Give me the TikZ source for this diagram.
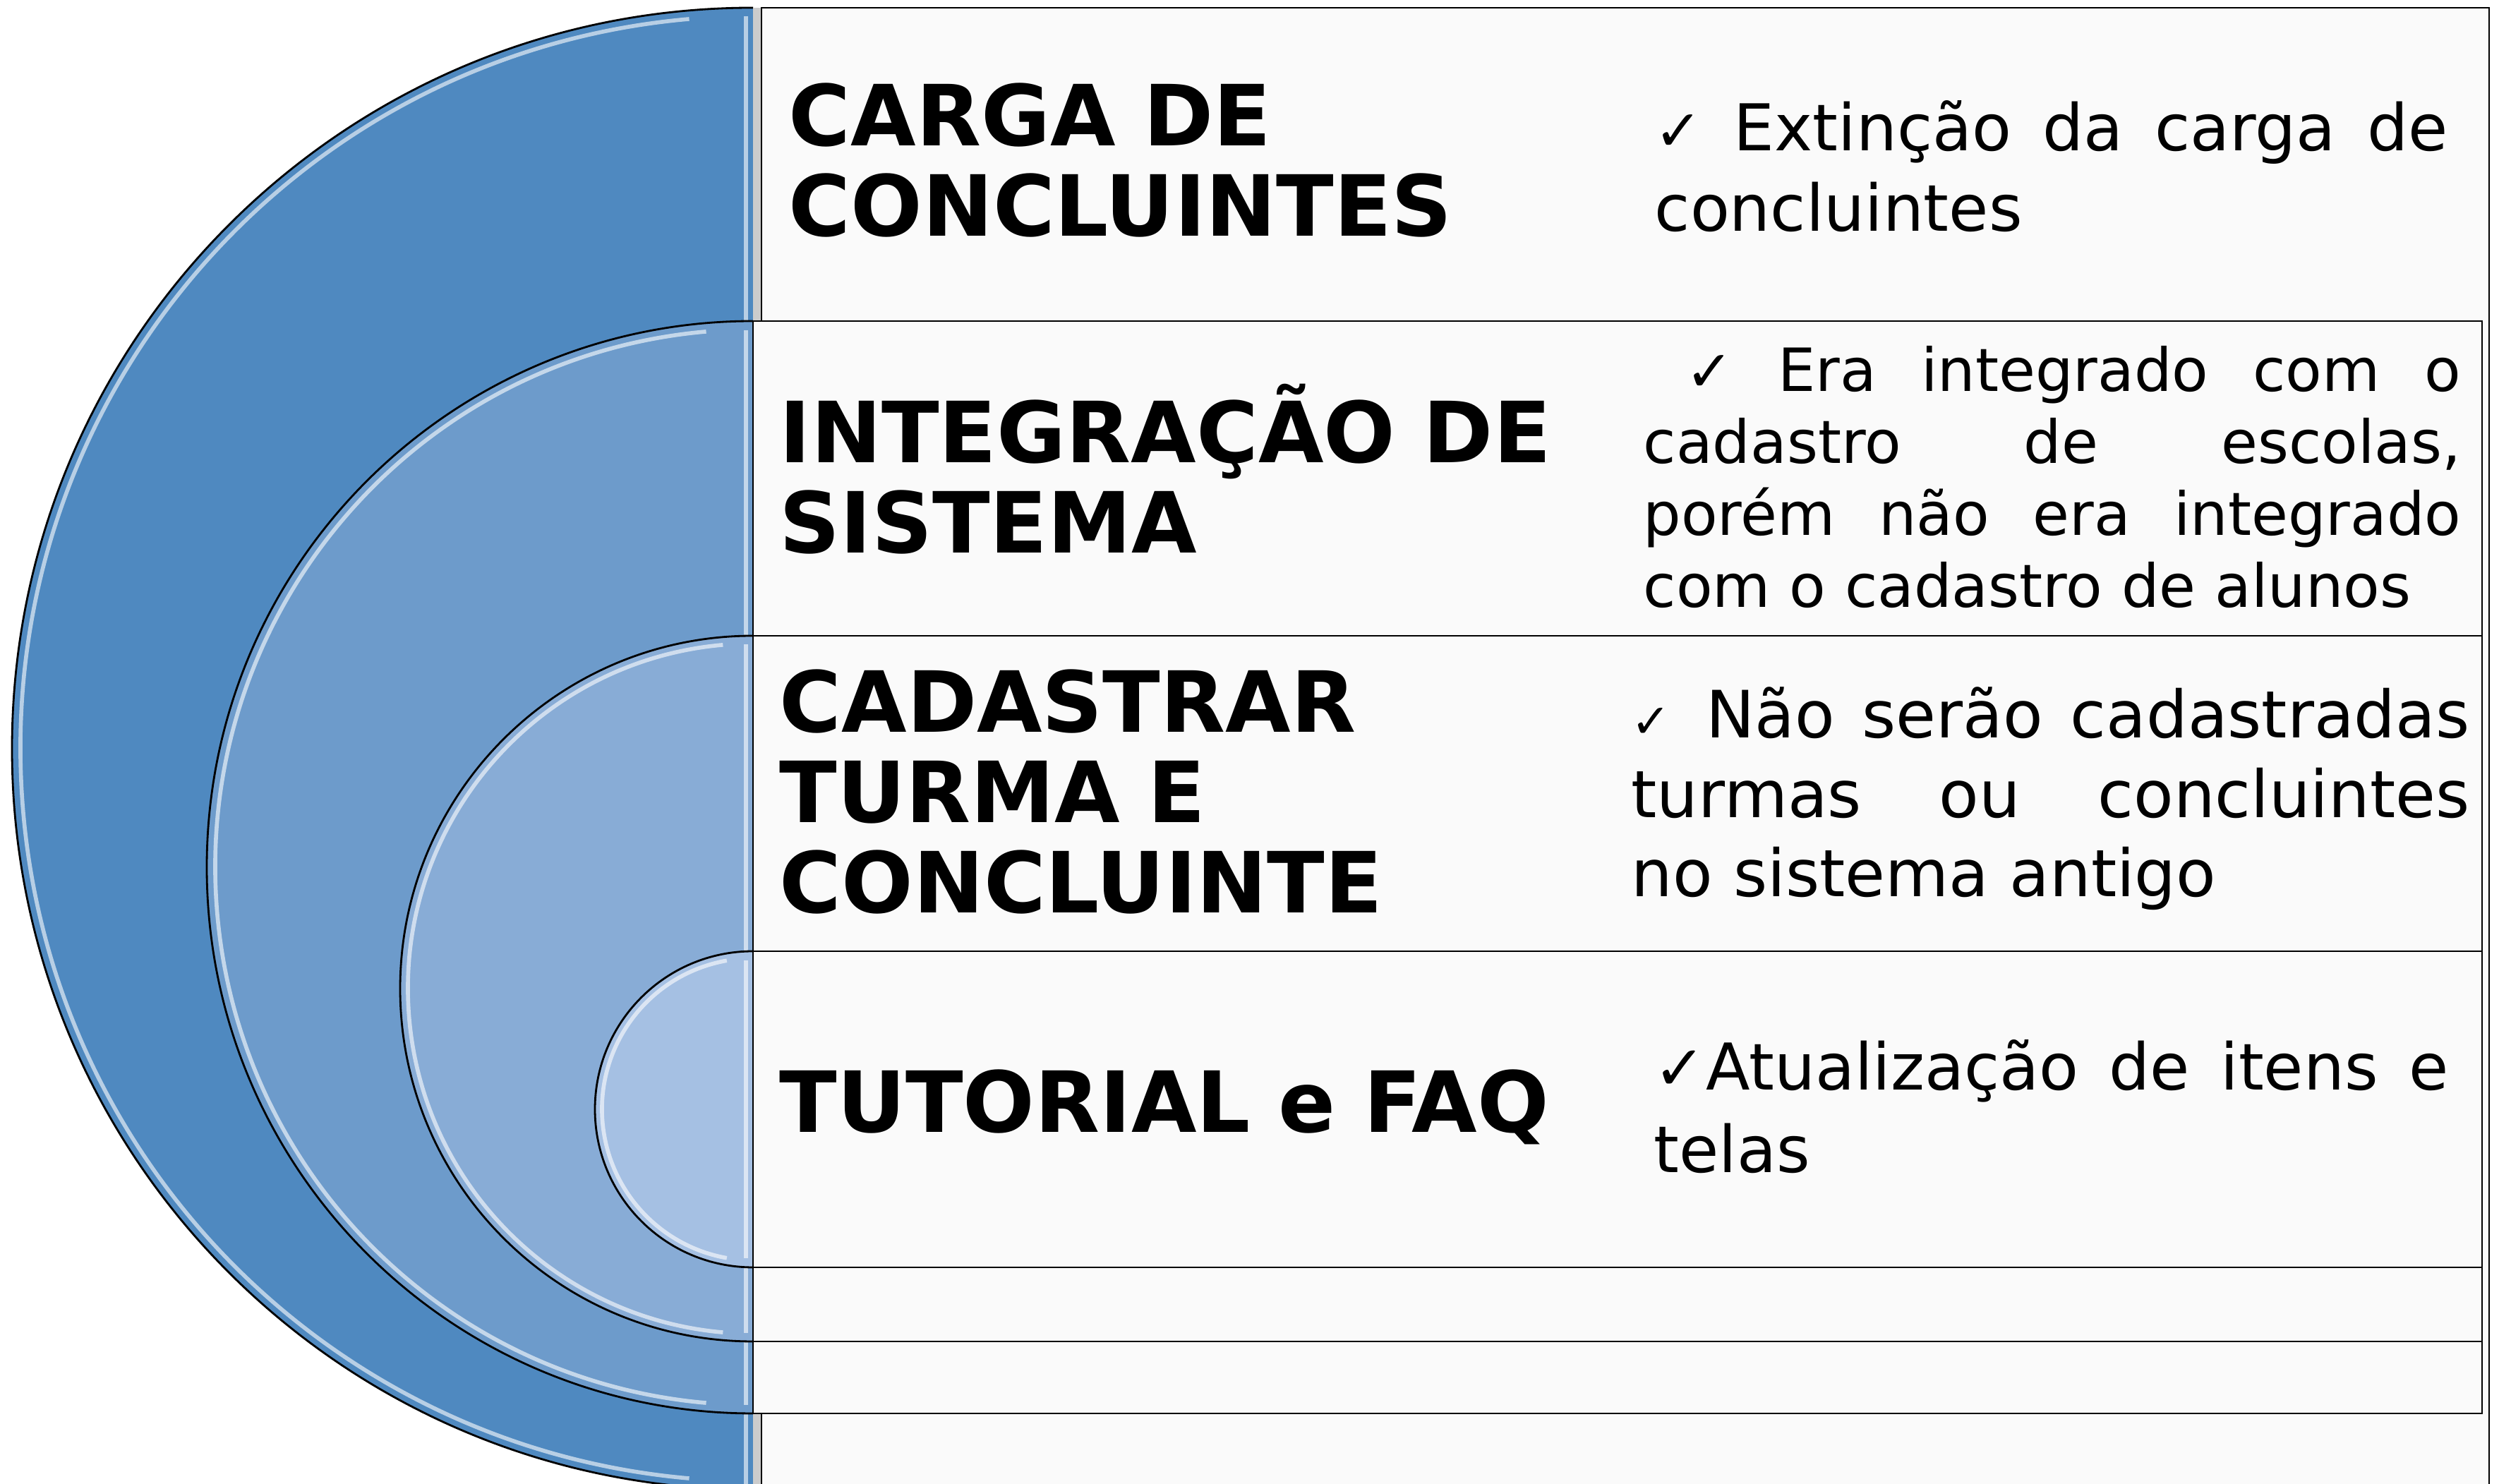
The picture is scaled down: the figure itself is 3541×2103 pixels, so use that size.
\documentclass[tikz,border=0pt]{standalone}
\usepackage{fontspec}
\setmainfont{DejaVu Sans}
\definecolor{ringA}{HTML}{4F89C0}
\definecolor{ringB}{HTML}{6D9BCB}
\definecolor{ringC}{HTML}{88ACD6}
\definecolor{ringD}{HTML}{A5C0E3}
\definecolor{paper}{HTML}{FAFAFA}
\newcommand{\okmark}[1]{{\fontsize{#1}{#1}\selectfont ✓}}
\AtBeginDocument{\hyphenpenalty=10000 \tolerance=9999}
\begin{document}
\begin{tikzpicture}[x=0.01cm,y=0.01cm,
  ring/.style={draw=black,line width=0.8pt},
  shine/.style={draw=white,opacity=0.6,line width=1.6pt},
  panel/.style={fill=paper,draw=black,line width=0.8pt},
  head/.style={anchor=base west,inner sep=0pt,text width=12cm,align=left,
    font=\bfseries\fontsize{34}{36.3}\selectfont},
  note/.style={anchor=base west,inner sep=0pt,align=justify,
    font=\fontsize{26}{32.4}\selectfont}]
\useasboundingbox (0,0) rectangle (3541,2103);
\clip (0,0) rectangle (3541,2103);
\fill[ringA] (1067,2092) arc (90:270:1050) -- cycle;
\draw[ring] (1067,2092) arc (90:270:1050);
\draw[shine] (1067,1042) ++(95:1038) arc (95:265:1038);
\draw[shine] (1057,2080) -- (1057,0);
\fill[gray!40] (1067,-20) rectangle (1079,2092);
\draw[panel] (1079,-20) rectangle (3527,2092);
\fill[ringB] (1067,1648) arc (90:270:774) -- cycle;
\draw[ring] (1067,1648) arc (90:270:774);
\draw[shine] (1067,874) ++(95:762) arc (95:265:762);
\draw[shine] (1057,1635) -- (1057,112);
\draw[panel] (1067,100) rectangle (3517,1648);
\fill[ringC] (1067,1202) arc (90:270:500) -- cycle;
\draw[ring] (1067,1202) arc (90:270:500);
\draw[shine] (1067,702) ++(95:489) arc (95:265:489);
\draw[shine] (1057,1190) -- (1057,214);
\draw[panel] (1067,202) rectangle (3517,1202);
\fill[ringD] (1067,755) arc (90:270:224) -- cycle;
\draw[ring] (1067,755) arc (90:270:224);
\draw[shine] (1067,531) ++(100:214) arc (100:260:214);
\draw[shine] (1057,742) -- (1057,320);
\draw[panel] (1067,307) rectangle (3517,755);
\node[head] (carga) at (1117,1896) {CARGA DE\\CONCLUINTES};
\node[head] (integra) at (1104,1447) {INTEGRAÇÃO DE\\SISTEMA};
\node[head] (cadastra) at (1104,1065) {CADASTRAR\\TURMA E\\CONCLUINTE};
\node[head] (tutorial) at (1104,498) {TUTORIAL e FAQ};
\node[note,text width=11.23cm] (cargatxt) at (2344,1889)
  {\okmark{23} Extinção da carga de\linebreak concluintes};
\node[note,text width=11.58cm,font=\fontsize{24}{29}\selectfont] (integratxt) at (2328,1548)
  {\hspace*{0.6cm}\okmark{23} Era integrado com o\linebreak cadastro de escolas,\linebreak
   porém não era integrado\linebreak com o cadastro de alunos};
\node[note,text width=11.87cm,font=\fontsize{26.3}{31.9}\selectfont] (cadastratxt) at (2311,1057)
  {\okmark{19}\hspace{0.5cm}Não serão cadastradas\linebreak turmas ou concluintes\linebreak no sistema antigo};
\node[note,text width=11.25cm,font=\fontsize{26}{33}\selectfont] (tutorialtxt) at (2343,558)
  {\okmark{25}Atualização de itens e\linebreak telas};
\end{tikzpicture}
\end{document}
